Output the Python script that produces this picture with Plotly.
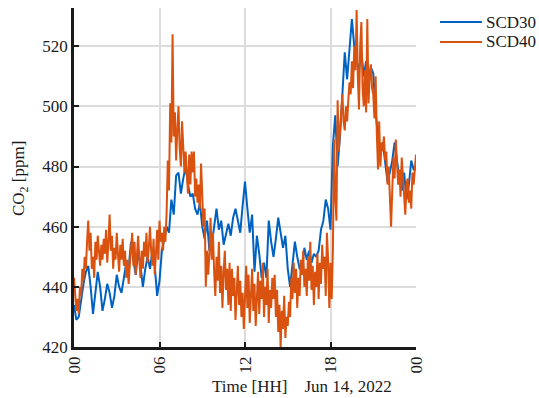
import pandas as pd
import plotly.graph_objects as go

# SCD30 CO2 [ppm], 10-minute samples, Jun 14 2022 00:00 -> Jun 15 00:00
scd30 = [
    434, 429, 430, 436, 441, 445,
    447, 440, 431, 438, 445, 440,
    432, 436, 441, 438, 433, 437,
    444, 440, 438, 443, 448, 446,
    455, 449, 444, 452, 447, 440,
    446, 450, 446, 452, 447, 437,
    442, 452, 456, 460, 458, 469,
    464, 477, 478, 471, 476, 480,
    474, 470, 471, 466, 464, 468,
    460, 456, 462, 452, 454, 460,
    466, 459, 462, 454, 458, 461,
    457, 463, 466, 462, 458, 467,
    475, 466, 458, 464, 445, 457,
    451, 443, 448, 443, 462, 455,
    450, 456, 463, 458, 453, 457,
    446, 440, 448, 455, 450, 446,
    446, 453, 449, 452, 448, 451,
    450, 452, 459, 462, 469, 466,
    459, 487, 497, 480, 490, 505,
    518, 509, 520, 529, 520, 515,
    512, 518, 510, 515, 509, 513,
    511, 498, 490, 486, 488, 481,
    475, 478, 482, 488, 482, 476,
    472, 478, 469, 474, 482, 479,
    479,
]

# SCD40 CO2 [ppm], 5-minute samples
scd40 = [
    443, 438, 432, 436, 431, 440, 437, 446, 442, 450, 446, 455,
    462, 452, 458, 446, 450, 443, 455, 449, 457, 452, 447, 454,
    449, 456, 451, 459, 448, 455, 464, 452, 457, 446, 453, 449,
    458, 451, 445, 454, 449, 456, 447, 452, 443, 449, 441, 447,
    452, 458, 447, 455, 444, 450, 457, 449, 443, 452, 446, 455,
    450, 458, 448, 453, 460, 452, 447, 456, 444, 451, 459, 449,
    462, 455, 458, 452, 460, 455, 465, 482, 472, 501, 488, 524,
    490, 498, 482, 492, 500, 486, 480, 495, 488, 478, 485, 476,
    471, 484, 474, 485, 478, 485, 470, 476, 468, 474, 466, 481,
    472, 460, 466, 440, 452, 444, 451, 463, 449, 458, 445, 437,
    450, 442, 455, 438, 447, 433, 445, 452, 439, 446, 434, 448,
    432, 446, 437, 443, 429, 440, 447, 434, 442, 430, 438, 426,
    440, 447, 433, 444, 428, 438, 446, 432, 441, 427, 437, 445,
    431, 442, 436, 448, 430, 440, 434, 446, 428, 439, 433, 443,
    436, 444, 430, 439, 425, 434, 420, 432, 426, 437, 423, 430,
    427, 435, 430, 443, 436, 448, 438, 446, 433, 443, 437, 449,
    444, 452, 440, 446, 437, 450, 442, 455, 439, 447, 434, 445,
    440, 451, 436, 448, 441, 454, 446, 450, 437, 458, 449, 433,
    448, 436, 452, 489, 470, 462, 502, 485, 492, 497, 504, 495,
    492, 500, 495, 502, 508, 504, 515, 506, 520, 512, 532, 510,
    499, 520, 528, 506, 500, 512, 498, 529, 501, 510, 514, 506,
    504, 496, 510, 491, 479, 495, 480, 488, 485, 490, 482, 485,
    474, 480, 469, 460, 472, 483, 476, 489, 481, 474, 479, 470,
    483, 476, 470, 464, 474, 476, 468, 472, 466, 478, 474, 480,
    484,
]

series_names = ["SCD30", "SCD40"]
series_colors = ["#0062C0", "#D9520F"]
x_tick_times = ["2022-06-14 00:00", "2022-06-14 06:00", "2022-06-14 12:00",
                "2022-06-14 18:00", "2022-06-15 00:00"]
x_tick_labels = ["00", "06", "12", "18", "00"]
y_ticks = [420, 440, 460, 480, 500, 520]

t30 = pd.date_range("2022-06-14 00:00", periods=len(scd30), freq="10min")
t40 = pd.date_range("2022-06-14 00:00", periods=len(scd40), freq="5min")

FONT = "Liberation Serif, Times New Roman, serif"

fig = go.Figure()
fig.add_trace(go.Scatter(x=t30, y=scd30, mode="lines", name=series_names[0],
                         line=dict(color=series_colors[0], width=2)))
fig.add_trace(go.Scatter(x=t40, y=scd40, mode="lines", name=series_names[1],
                         line=dict(color=series_colors[1], width=2)))

L, R, T, B = 74, 123, 8, 51
W, H = 539, 398
pw, ph = W - L - R, H - T - B

def px_x(p):
    return (p - L) / pw

def px_y(p):
    return (H - B - p) / ph

fig.update_layout(
    width=W, height=H,
    margin=dict(l=L, r=R, t=T, b=B, pad=0, autoexpand=False),
    paper_bgcolor="white", plot_bgcolor="white",
    font=dict(family=FONT, size=17, color="#1a1a1a"),
    showlegend=False,
)
fig.update_xaxes(
    range=[x_tick_times[0], x_tick_times[-1]],
    tickvals=x_tick_times, ticktext=x_tick_labels, tickangle=-90,
    showgrid=True, gridcolor="#DCDCDC", gridwidth=1.5,
    showline=True, linecolor="#1a1a1a", linewidth=2.5,
    ticks="inside", ticklen=5, tickwidth=2, tickcolor="#1a1a1a",
    zeroline=False, tickfont=dict(size=17), automargin=False,
)
fig.update_yaxes(
    range=[420, 532.7], tickvals=y_ticks,
    showgrid=True, gridcolor="#DCDCDC", gridwidth=1.5,
    showline=True, linecolor="#1a1a1a", linewidth=2.5,
    ticks="inside", ticklen=5, tickwidth=2, tickcolor="#1a1a1a",
    zeroline=False, tickfont=dict(size=17), automargin=False,
)

# legend (drawn manually to match placement)
for i, (name, col) in enumerate(zip(series_names, series_colors)):
    yc = 22 + i * 20
    fig.add_shape(type="line", xref="paper", yref="paper",
                  x0=px_x(440), x1=px_x(482), y0=px_y(yc), y1=px_y(yc),
                  line=dict(color=col, width=2))
    fig.add_annotation(text=name, xref="paper", yref="paper",
                       x=px_x(484), y=px_y(yc), showarrow=False,
                       xanchor="left", yanchor="middle",
                       font=dict(size=17, family=FONT))

# axis labels
fig.add_annotation(text="CO<sub>2</sub> [ppm]", xref="paper", yref="paper",
                   x=px_x(20), y=px_y(179), textangle=-90,
                   showarrow=False, xanchor="center", yanchor="middle",
                   font=dict(size=17, family=FONT))
fig.add_annotation(text="Time [HH]\u00a0\u00a0\u00a0\u00a0Jun 14, 2022",
                   xref="paper", yref="paper",
                   x=px_x(301.5), y=px_y(387),
                   showarrow=False, xanchor="center", yanchor="middle",
                   font=dict(size=17, family=FONT))

fig.write_html("out.html",
               config={"displayModeBar": False},
               post_script="document.body.style.margin='0';"
                           "document.body.style.overflow='hidden';")
